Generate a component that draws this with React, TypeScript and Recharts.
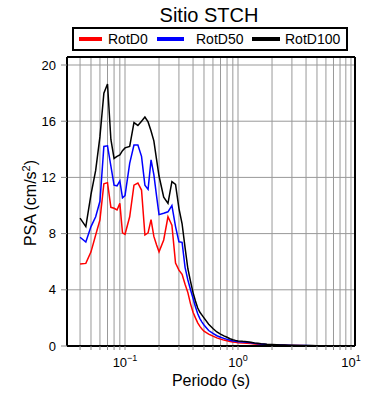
import React from 'react';
import { LineChart, Line, XAxis, YAxis, CartesianGrid } from 'recharts';

const FONT = '"Liberation Sans", Arial, Helvetica, sans-serif';

// periodos (s)
const periodos = [
  0.04, 0.045, 0.05, 0.055, 0.06, 0.065, 0.07, 0.075, 0.08, 0.085, 0.09, 0.095,
  0.1, 0.11, 0.12, 0.13, 0.14, 0.15, 0.16, 0.17, 0.18, 0.19, 0.2, 0.22, 0.24,
  0.26, 0.28, 0.3, 0.32, 0.34, 0.36, 0.38, 0.4, 0.42, 0.44, 0.46, 0.48, 0.5,
  0.55, 0.6, 0.65, 0.7, 0.75, 0.8, 0.85, 0.9, 0.95, 1.0, 1.1, 1.2, 1.3, 1.4,
  1.5, 1.6, 1.7, 1.8, 1.9, 2.0, 2.2, 2.4, 2.6, 2.8, 3.0, 3.5, 4.0, 4.5, 5.0,
  6.0, 7.0, 8.0, 9.0, 10.0,
];

const rotD0 = [
  5.84, 5.88, 6.7, 7.9, 8.97, 11.55, 11.63, 9.87, 9.8, 9.68, 10.15, 8.05,
  7.95, 9.2, 11.45, 11.6, 11.1, 7.9, 8.05, 9.0, 7.8, 7.2, 6.7, 7.55, 9.2,
  8.6, 5.9, 5.4, 5.1, 4.4, 3.8, 3.0, 2.4, 2.0, 1.65, 1.4, 1.2, 1.05,
  0.85, 0.7, 0.58, 0.49, 0.42, 0.37, 0.32, 0.29, 0.26, 0.24, 0.22, 0.2, 0.18, 0.15,
  0.13, 0.11, 0.1, 0.09, 0.08, 0.072, 0.06, 0.052, 0.046, 0.04, 0.036, 0.029, 0.024, 0.02, 0.017,
  0.014, 0.011, 0.009, 0.008, 0.007,
];

const rotD50 = [
  7.74, 7.4, 8.5, 9.2, 10.3, 14.2, 14.25, 12.8, 11.45, 11.4, 11.75, 10.55,
  10.7, 13.0, 14.3, 14.3, 13.5, 11.45, 11.15, 13.25, 12.2, 10.7, 9.35, 9.45, 9.55,
  10.0, 8.5, 7.42, 7.38, 5.6, 4.7, 4.0, 3.4, 2.8, 2.3, 1.95, 1.7, 1.5,
  1.1, 0.9, 0.73, 0.62, 0.54, 0.47, 0.41, 0.36, 0.33, 0.3, 0.28, 0.26, 0.23, 0.19,
  0.16, 0.14, 0.12, 0.105, 0.095, 0.085, 0.072, 0.063, 0.055, 0.047, 0.042, 0.034, 0.028, 0.024, 0.02,
  0.016, 0.013, 0.011, 0.0095, 0.0085,
];

const rotD100 = [
  9.1, 8.5, 10.8, 12.5, 14.9, 18.0, 18.65, 14.7, 13.35, 13.5, 13.6, 13.9,
  14.1, 14.2, 15.9, 15.7, 16.0, 16.3, 15.95, 15.3, 14.6, 13.3, 12.1, 10.6, 10.15,
  11.7, 11.5, 9.8, 8.7, 7.0, 5.5, 4.6, 3.8, 3.2, 2.7, 2.4, 2.2, 2.0,
  1.55, 1.25, 1.0, 0.85, 0.72, 0.62, 0.52, 0.45, 0.4, 0.36, 0.33, 0.31, 0.27, 0.22,
  0.19, 0.16, 0.14, 0.12, 0.11, 0.1, 0.085, 0.075, 0.065, 0.055, 0.05, 0.04, 0.033, 0.028, 0.024,
  0.019, 0.016, 0.013, 0.011, 0.01,
];

const xTicks = [
  0.04, 0.05, 0.06, 0.07, 0.08, 0.09,
  0.1, 0.2, 0.3, 0.4, 0.5, 0.6, 0.7, 0.8, 0.9,
  1, 2, 3, 4, 5, 6, 7, 8, 9, 10,
];
const yTicks = [0, 4, 8, 12, 16, 20];

const series = [
  { key: 'RotD0', values: rotD0, color: '#ff0000' },
  { key: 'RotD50', values: rotD50, color: '#0000ff' },
  { key: 'RotD100', values: rotD100, color: '#000000' },
];

const data = periodos.map((p, i) => {
  const row: Record<string, number> = { periodo: p };
  series.forEach((s) => {
    row[s.key] = s.values[i];
  });
  return row;
});

const X_DOMAIN: [number, number] = [0.03066, 10.85];
const Y_DOMAIN: [number, number] = [0, 20.57];

function DecadeTick(props: any) {
  const { x, y, payload } = props;
  const lg = Math.log10(payload.value);
  const exp = Math.round(lg);
  if (Math.abs(lg - exp) > 1e-6) return <g />;
  return (
    <text x={x} y={y + 15} textAnchor="middle" fontSize={13} fill="#000" fontFamily={FONT}>
      <tspan>10</tspan>
      <tspan dy={-6} fontSize={9}>{exp < 0 ? `\u2212${-exp}` : `${exp}`}</tspan>
    </text>
  );
}

function Overlay() {
  const items = [
    { label: 'RotD0', color: '#ff0000', x1: 79, x2: 102, tx: 108 },
    { label: 'RotD50', color: '#0000ff', x1: 157, x2: 184, tx: 196 },
    { label: 'RotD100', color: '#000000', x1: 252, x2: 280, tx: 285 },
  ];
  return (
    <svg width={390} height={400} style={{ position: 'absolute', left: 0, top: 0, pointerEvents: 'none' }}>
      <text x={209} y={22} textAnchor="middle" fontSize={20} fontFamily={FONT} fill="#000">
        Sitio STCH
      </text>
      <rect x={73} y={28} width={274} height={22} fill="#fff" stroke="#000" strokeWidth={2} />
      {items.map((it) => (
        <g key={it.label}>
          <line x1={it.x1} x2={it.x2} y1={39} y2={39} stroke={it.color} strokeWidth={4} />
          <text x={it.tx} y={44} fontSize={14} fontFamily={FONT} fill="#000">
            {it.label}
          </text>
        </g>
      ))}
      <text x={211} y={386} textAnchor="middle" fontSize={16} fontFamily={FONT} fill="#000">
        Periodo (s)
      </text>
      <text
        transform="translate(36,203) rotate(-90)"
        textAnchor="middle"
        fontSize={16}
        fontFamily={FONT}
        fill="#000"
      >
        <tspan>PSA (cm/s</tspan>
        <tspan dy={-6} fontSize={11}>2</tspan>
        <tspan dy={6}>)</tspan>
      </text>
    </svg>
  );
}

export default function App() {
  return (
    <div style={{ position: 'absolute', left: 0, top: 0, width: 390, height: 400, background: '#fff', fontFamily: FONT }}>
      <LineChart width={390} height={400} data={data} margin={{ top: 52, right: 30, bottom: 0, left: 0 }}>
        <CartesianGrid stroke="#999" strokeWidth={1} />
        <XAxis
          dataKey="periodo"
          type="number"
          scale="log"
          domain={X_DOMAIN}
          allowDataOverflow
          ticks={xTicks}
          interval={0}
          height={54}
          tickSize={4}
          tickMargin={2}
          tickLine={{ stroke: '#888' }}
          axisLine={{ stroke: '#000', strokeWidth: 2 }}
          tick={<DecadeTick />}
        />
        <XAxis
          xAxisId="top"
          orientation="top"
          dataKey="periodo"
          type="number"
          scale="log"
          domain={X_DOMAIN}
          allowDataOverflow
          ticks={xTicks}
          interval={0}
          height={5}
          tickSize={4}
          tickLine={{ stroke: '#888' }}
          axisLine={{ stroke: '#000', strokeWidth: 2 }}
          tick={false}
        />
        <YAxis
          type="number"
          domain={Y_DOMAIN}
          ticks={yTicks}
          interval={0}
          width={67}
          tickSize={6}
          tickMargin={5}
          tickLine={{ stroke: '#888' }}
          axisLine={{ stroke: '#000', strokeWidth: 2 }}
          tick={{ fontSize: 13, fill: '#000', fontFamily: FONT }}
        />
        <YAxis
          yAxisId="right"
          orientation="right"
          type="number"
          domain={Y_DOMAIN}
          ticks={yTicks}
          interval={0}
          width={5}
          tickSize={5}
          tickLine={{ stroke: '#888' }}
          axisLine={{ stroke: '#000', strokeWidth: 2 }}
          tick={false}
        />
        {series.map((s) => (
          <Line
            key={s.key}
            dataKey={s.key}
            type="linear"
            stroke={s.color}
            strokeWidth={1.5}
            dot={false}
            isAnimationActive={false}
          />
        ))}
      </LineChart>
      <Overlay />
    </div>
  );
}
